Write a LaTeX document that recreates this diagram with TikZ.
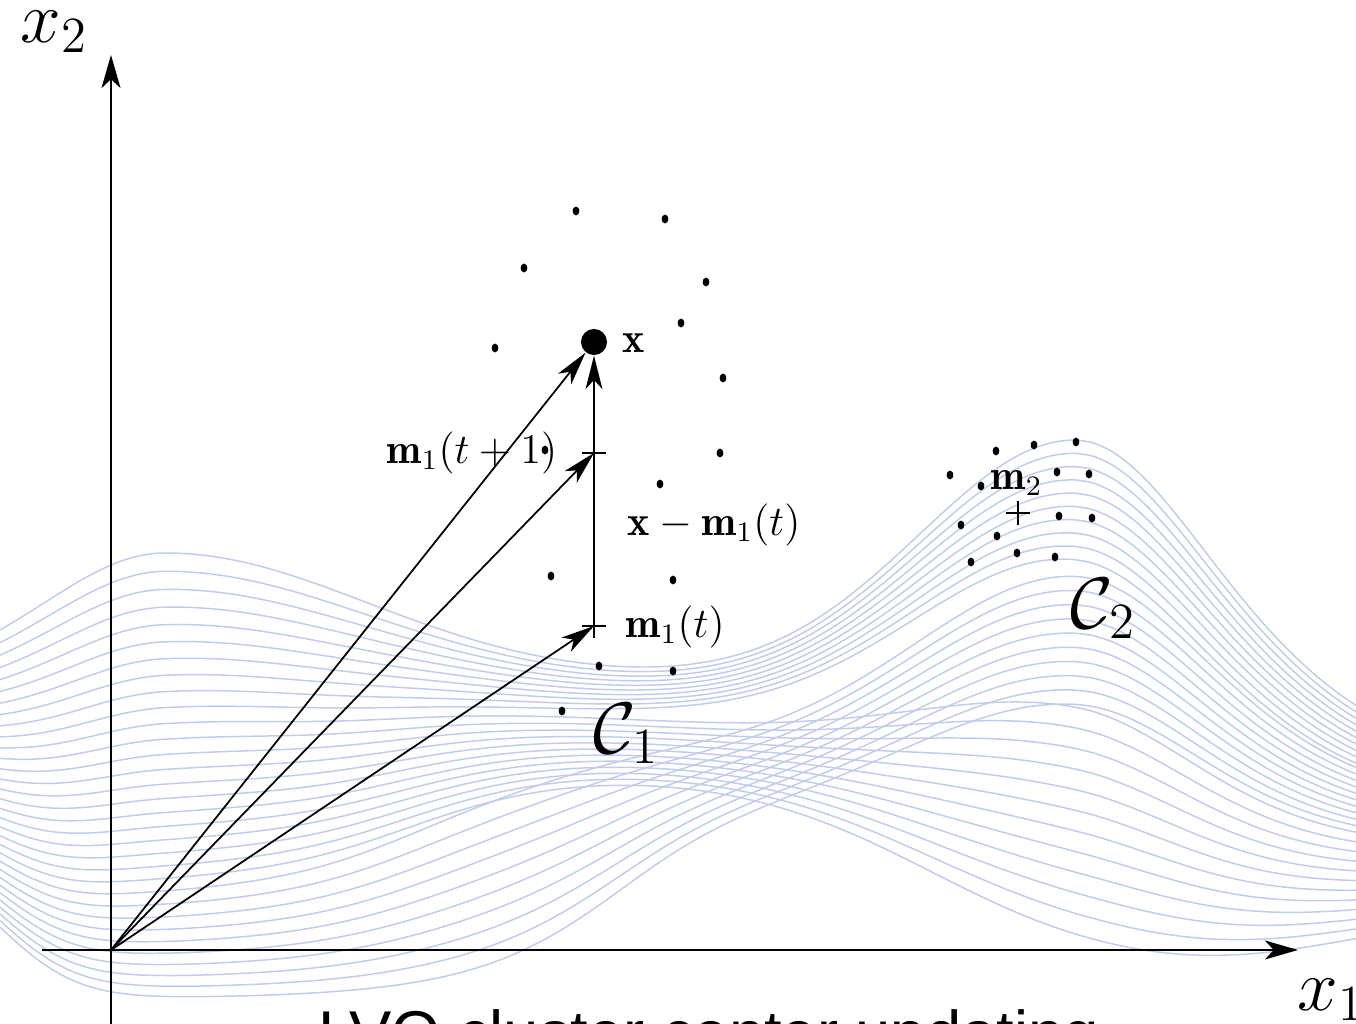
\documentclass[tikz,border=0pt]{standalone}
\usepackage{fontspec}
\newfontfamily\capfont{Liberation Sans}
\usetikzlibrary{arrows.meta,calc}
\definecolor{wavecol}{RGB}{193,204,235}
\tikzset{declare function={
  gs(\dq,\sq) = exp(-min(9.5,((\dq)/(\sq))*((\dq)/(\sq))));
  lg(\zq) = 1/(1+exp(min(9,max(-9,-(\zq)))));
  Tf(\xq) = 680 - 127*gs(\xq-165, ((\xq<165) ? 171 : 287)) - 240*gs(\xq-1075, ((\xq<1075) ? 220 : 169)) + 60*gs(\xq-1450,150);
  Bf(\xq) = 998 - 60*gs(\xq-800,300) - 120*gs(\xq+80,110) - 70*gs(\xq-1500,250);
  Hh(\gq,\xq) = \gq + 0.35*(1-lg((\xq-400)/60))*\gq*(1-\gq);
  Gz(\xq,\gz,\rz,\cz,\wz) = \gz + (\rz-\gz)*lg((\xq-\cz)/\wz);
  Yz(\tz,\bz,\hz) = \tz + (\bz-\tz)*\hz;
}}
\begin{document}
\begin{tikzpicture}[x=0.01cm,y=-0.01cm,
  wave/.style={draw=wavecol, line width=0.42pt},
  axisline/.style={line width=0.6pt, -{Stealth[length=9.4pt,width=5.4pt,inset=2.5pt]}},
  vec/.style={line width=0.5pt, -{Stealth[length=9.5pt,width=4.8pt,inset=2.6pt]}},
  lbl/.style={inner sep=0pt, anchor=base west, font=\fontsize{12}{14}\selectfont},
  biglbl/.style={inner sep=0pt, anchor=base west, font=\fontsize{20}{24}\selectfont},
  bigdot/.style={circle, fill=black, inner sep=0pt, minimum size=0.26cm},
  crossline/.style={line width=0.45pt}
]
\useasboundingbox (0,0) rectangle (1356,1024);
\clip (0,0) rectangle (1356,1024);

% ---- wave background: a folded band of lines ----
\foreach \i in {0,...,31}{
  \pgfmathsetmacro\tv{\i/31}
  \pgfmathsetmacro\mv{(\tv<0.3) ? \tv/3 : ((\tv<0.7) ? 0.1+(\tv-0.3)/2 : 0.3+(\tv-0.7)*7/3)}
  \pgfmathsetmacro\rv{(\tv<0.3) ? \tv*5/6 : ((\tv<0.7) ? 0.5+(\tv-0.3)*1.25 : 0.25+(\tv-0.7)*5/6)}
  \pgfmathsetmacro\cv{(\tv<0.7) ? 820 : 630}
  \pgfmathsetmacro\wv{(\tv<0.3) ? 120 : ((\tv<0.7) ? 89 : 60)}
  \draw[wave] plot[smooth, domain=-20:1376, samples=80]
    (\x, {Yz(Tf(\x), Bf(\x), Hh(Gz(\x, \tv+(\mv-\tv)*lg((\x-450)/100), \rv, \cv, \wv), \x))});
}

% ---- axes ----
\coordinate (O) at (111,950);
\coordinate (xs) at (42,950);
\coordinate (xe) at (1298,950);
\coordinate (ys) at (111,1030);
\coordinate (ye) at (111,55);
\draw[axisline] (xs) -- (xe);
\draw[axisline] (ys) -- (ye);
\node[biglbl] (xtwo) at (20,42) {$x_2$};
\node[biglbl] (xone) at (1297,1010) {$x_1$};

% ---- points ----
\node[bigdot] (X) at (594,342) {};
\coordinate (M1) at (594,626);
\coordinate (M1n) at (594,453);
\coordinate (M2) at (1018,513);

\foreach \p in {(576,211),(665,219),(524,268),(706,282),(681,323),(495,348),
  (723,378),(545,450),(720,453),(660,484),(551,576),(673,580),(599,666),
  (673,671),(562,711),
  (996,451),(1034,445),(1076,442),(950,475),(981,486),(1057,472),(1089,474),
  (961,525),(1059,516),(1092,518),(997,536),(1017,553),(971,562),(1055,557)}
  \fill \p ellipse [x radius=0.34mm, y radius=0.44mm];

% crosses
\foreach \c in {M1,M1n,M2}
  \draw[crossline] ($(\c)+(-12,0)$) -- ($(\c)+(12,0)$) ($(\c)+(0,-12)$) -- ($(\c)+(0,12)$);

% ---- vectors ----
\draw[vec] (O) -- (X);
\draw[vec] (O) -- (M1n);
\draw[vec] (O) -- (M1);
\draw[vec] (M1) -- (X);

% ---- labels ----
\node[lbl] (lx) at (622,353) {$\mathbf{x}$};
\node[lbl] (lm1n) at (386,463) {$\mathbf{m}_1(t+1)$};
\node[lbl] (ldiff) at (627,535) {$\mathbf{x}-\mathbf{m}_1(t)$};
\node[lbl] (lm1) at (625,637) {$\mathbf{m}_1(t)$};
\node[lbl] (lm2) at (990,489) {$\mathbf{m}_2$};
\node[biglbl] (lc1) at (593,753) {$\mathcal{C}_1$};
\node[biglbl] (lc2) at (1070,628) {$\mathcal{C}_2$};

\node[inner sep=0pt, anchor=base west, font=\capfont\fontsize{18}{20}\selectfont] (cap) at (318,1055) {LVQ cluster center updating};
\end{tikzpicture}
\end{document}
